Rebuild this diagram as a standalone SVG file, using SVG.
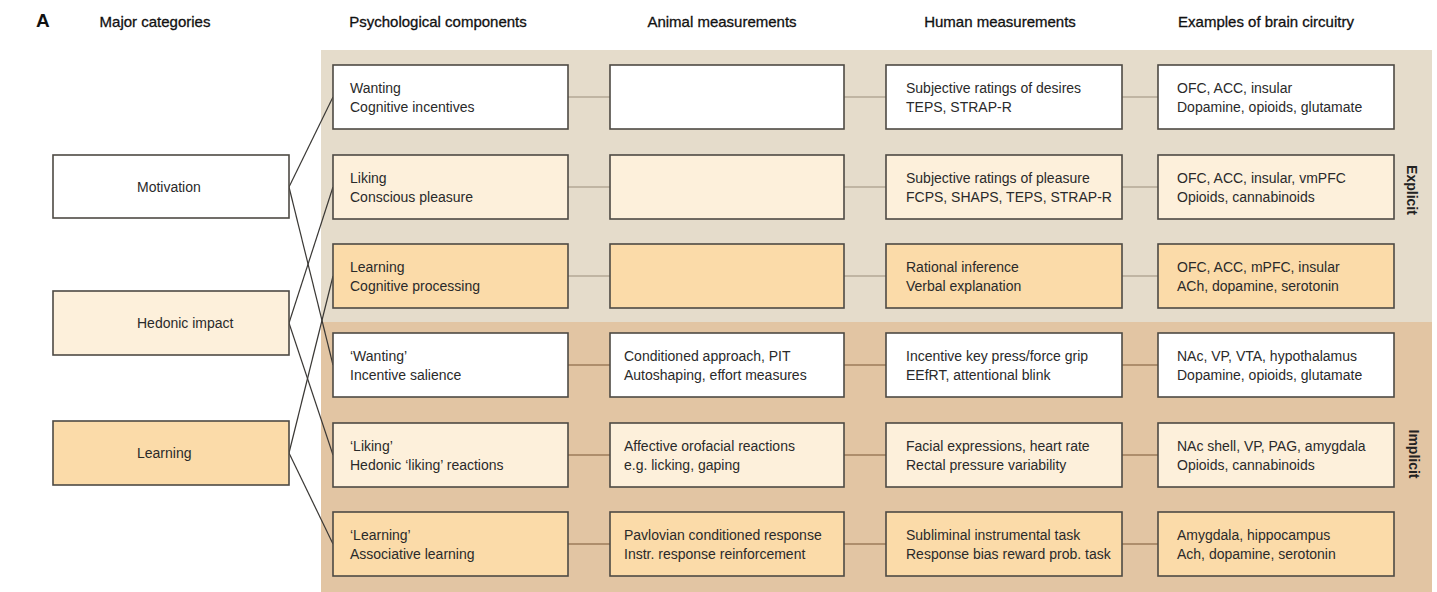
<svg xmlns="http://www.w3.org/2000/svg" width="1437" height="592" viewBox="0 0 1437 592">
<style>
text{font-family:"Liberation Sans",Arial,sans-serif;fill:#2a2a2a;font-size:14px}
.hd{font-size:15px;fill:#111;stroke:#111;stroke-width:0.3;text-anchor:middle}
.side{font-weight:bold;font-size:14px;fill:#222}
.box{stroke:#4e4a44;stroke-width:1.6}
.w{fill:#ffffff}.l{fill:#fdf0db}.g{fill:#fbdba9}
.cx{stroke:#3a3835;stroke-width:1.2;fill:none}
.he{stroke:#b3a996;stroke-width:1.5}
.hi{stroke:#9c7b5a;stroke-width:1.5}
</style>
<rect x="0" y="0" width="1437" height="592" fill="#ffffff"/>
<rect x="321" y="50" width="1111" height="272" fill="#e5dccb"/>
<rect x="321" y="322" width="1111" height="270" fill="#e2c5a3"/>
<text x="36" y="27" style="font-weight:bold;font-size:19px;fill:#111">A</text>
<text class="hd" x="155" y="27">Major categories</text>
<text class="hd" x="438" y="27">Psychological components</text>
<text class="hd" x="722" y="27">Animal measurements</text>
<text class="hd" x="1000" y="27">Human measurements</text>
<text class="hd" x="1266" y="27">Examples of brain circuitry</text>
<text class="side" transform="translate(1407,190) rotate(90)" text-anchor="middle">Explicit</text>
<text class="side" transform="translate(1409,454) rotate(90)" text-anchor="middle">Implicit</text>
<g id="connectors">
<line class="cx" x1="289" y1="187" x2="333" y2="97"/>
<line class="cx" x1="289" y1="187" x2="333" y2="365"/>
<line class="cx" x1="289" y1="323" x2="333" y2="187"/>
<line class="cx" x1="289" y1="323" x2="333" y2="455"/>
<line class="cx" x1="289" y1="453" x2="333" y2="276"/>
<line class="cx" x1="289" y1="453" x2="333" y2="544"/>
<g class="he">
<line x1="568" y1="97" x2="610" y2="97"/><line x1="844" y1="97" x2="886" y2="97"/><line x1="1122" y1="97" x2="1158" y2="97"/>
<line x1="568" y1="187" x2="610" y2="187"/><line x1="844" y1="187" x2="886" y2="187"/><line x1="1122" y1="187" x2="1158" y2="187"/>
<line x1="568" y1="276" x2="610" y2="276"/><line x1="844" y1="276" x2="886" y2="276"/><line x1="1122" y1="276" x2="1158" y2="276"/>
</g>
<g class="hi">
<line x1="568" y1="365" x2="610" y2="365"/><line x1="844" y1="365" x2="886" y2="365"/><line x1="1122" y1="365" x2="1158" y2="365"/>
<line x1="568" y1="455" x2="610" y2="455"/><line x1="844" y1="455" x2="886" y2="455"/><line x1="1122" y1="455" x2="1158" y2="455"/>
<line x1="568" y1="544" x2="610" y2="544"/><line x1="844" y1="544" x2="886" y2="544"/><line x1="1122" y1="544" x2="1158" y2="544"/>
</g>
</g>
<g id="motivation"><rect class="box w" x="53" y="155" width="236" height="63"/><text x="137" y="192">Motivation</text></g>
<g id="hedonic-impact"><rect class="box l" x="53" y="291" width="236" height="64"/><text x="137" y="328">Hedonic impact</text></g>
<g id="learning"><rect class="box g" x="53" y="421" width="236" height="64"/><text x="137" y="458">Learning</text></g>

<g id="psy-wanting"><rect class="box w" x="333" y="65" width="235" height="64"/><text x="350" y="93">Wanting</text><text x="350" y="112">Cognitive incentives</text></g>
<g id="psy-liking"><rect class="box l" x="333" y="155" width="235" height="64"/><text x="350" y="183">Liking</text><text x="350" y="202">Conscious pleasure</text></g>
<g id="psy-learning"><rect class="box g" x="333" y="244" width="235" height="64"/><text x="350" y="272">Learning</text><text x="350" y="291">Cognitive processing</text></g>
<g id="psy-wanting-i"><rect class="box w" x="333" y="333" width="235" height="64"/><text x="350" y="361">‘Wanting’</text><text x="350" y="380">Incentive salience</text></g>
<g id="psy-liking-i"><rect class="box l" x="333" y="423" width="235" height="64"/><text x="350" y="451">‘Liking’</text><text x="350" y="470">Hedonic ‘liking’ reactions</text></g>
<g id="psy-learning-i"><rect class="box g" x="333" y="512" width="235" height="64"/><text x="350" y="540">‘Learning’</text><text x="350" y="559">Associative learning</text></g>

<g id="ani-1"><rect class="box w" x="610" y="65" width="234" height="64"/></g>
<g id="ani-2"><rect class="box l" x="610" y="155" width="234" height="64"/></g>
<g id="ani-3"><rect class="box g" x="610" y="244" width="234" height="64"/></g>
<g id="ani-4"><rect class="box w" x="610" y="333" width="234" height="64"/><text x="624" y="361">Conditioned approach, PIT</text><text x="624" y="380">Autoshaping, effort measures</text></g>
<g id="ani-5"><rect class="box l" x="610" y="423" width="234" height="64"/><text x="624" y="451">Affective orofacial reactions</text><text x="624" y="470">e.g. licking, gaping</text></g>
<g id="ani-6"><rect class="box g" x="610" y="512" width="234" height="64"/><text x="624" y="540">Pavlovian conditioned response</text><text x="624" y="559">Instr. response reinforcement</text></g>

<g id="hum-1"><rect class="box w" x="886" y="65" width="236" height="64"/><text x="906" y="93">Subjective ratings of desires</text><text x="906" y="112">TEPS, STRAP-R</text></g>
<g id="hum-2"><rect class="box l" x="886" y="155" width="236" height="64"/><text x="906" y="183">Subjective ratings of pleasure</text><text x="906" y="202">FCPS, SHAPS, TEPS, STRAP-R</text></g>
<g id="hum-3"><rect class="box g" x="886" y="244" width="236" height="64"/><text x="906" y="272">Rational inference</text><text x="906" y="291">Verbal explanation</text></g>
<g id="hum-4"><rect class="box w" x="886" y="333" width="236" height="64"/><text x="906" y="361">Incentive key press/force grip</text><text x="906" y="380">EEfRT, attentional blink</text></g>
<g id="hum-5"><rect class="box l" x="886" y="423" width="236" height="64"/><text x="906" y="451">Facial expressions, heart rate</text><text x="906" y="470">Rectal pressure variability</text></g>
<g id="hum-6"><rect class="box g" x="886" y="512" width="236" height="64"/><text x="906" y="540">Subliminal instrumental task</text><text x="906" y="559">Response bias reward prob. task</text></g>

<g id="brain-1"><rect class="box w" x="1158" y="65" width="236" height="64"/><text x="1177" y="93">OFC, ACC, insular</text><text x="1177" y="112">Dopamine, opioids, glutamate</text></g>
<g id="brain-2"><rect class="box l" x="1158" y="155" width="236" height="64"/><text x="1177" y="183">OFC, ACC, insular, vmPFC</text><text x="1177" y="202">Opioids, cannabinoids</text></g>
<g id="brain-3"><rect class="box g" x="1158" y="244" width="236" height="64"/><text x="1177" y="272">OFC, ACC, mPFC, insular</text><text x="1177" y="291">ACh, dopamine, serotonin</text></g>
<g id="brain-4"><rect class="box w" x="1158" y="333" width="236" height="64"/><text x="1177" y="361">NAc, VP, VTA, hypothalamus</text><text x="1177" y="380">Dopamine, opioids, glutamate</text></g>
<g id="brain-5"><rect class="box l" x="1158" y="423" width="236" height="64"/><text x="1177" y="451">NAc shell, VP, PAG, amygdala</text><text x="1177" y="470">Opioids, cannabinoids</text></g>
<g id="brain-6"><rect class="box g" x="1158" y="512" width="236" height="64"/><text x="1177" y="540">Amygdala, hippocampus</text><text x="1177" y="559">Ach, dopamine, serotonin</text></g>
</svg>
